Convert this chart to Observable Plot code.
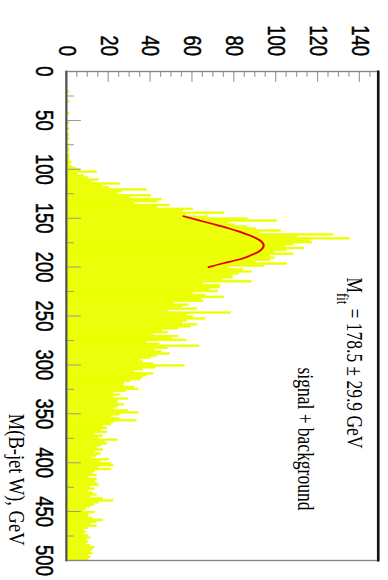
<!DOCTYPE html>
<html><head><meta charset="utf-8">
<script src="https://cdn.jsdelivr.net/npm/d3@7"></script>
<script src="https://cdn.jsdelivr.net/npm/@observablehq/plot@0.6"></script>
<style>
html,body{margin:0;padding:0;background:#fff;}
#wrap{position:relative;width:388px;height:580px;overflow:hidden;background:#fff;}
#wrap svg{position:absolute;left:0;top:0;transform-origin:0 0;}
#wrap g[aria-label$="tick label"] text{stroke:#000;stroke-width:0.4px;}
</style></head><body><div id="wrap"></div>
<script>
// Histogram counts, 2 GeV bins from 0 to 500 GeV
const binWidth = 2;
const counts = [
  0,0,0,0,0,0,0,0,0,0,
  1,0,0,0,0,1,0,0,0,0,
  0,1,0,0,0,0,1,0,0,1,
  0,0,1,0,1,0,0,1,0,1,
  1,0,1,1,1,
  1,2,1,2,4,
  6,14,5,8,10,
  15,12,25,17,20,
  38,26,24,40,30,
  45,43,32,49,43,
  60,55,75,57,67,
  86,100,77,80,86,
  90,102,92,127,110,
  135,116,117,108,104,
  113,105,99,108,97,
  99,97,90,105,94,
  77,84,88,82,79,
  79,74,88,65,73,
  73,68,72,60,66,
  75,64,65,51,58,
  55,62,48,78,57,
  60,66,57,55,62,
  59,53,45,48,41,
  53,50,57,38,44,
  63,48,42,45,49,
  43,40,35,36,41,
  56,42,36,32,41,
  38,36,35,30,27,
  27,32,34,28,22,
  25,22,29,24,24,
  27,24,22,29,34,
  25,21,25,33,22,
  21,17,19,16,19,
  13,17,15,24,18,
  19,16,14,17,13,
  16,14,12,20,16,
  21,22,15,21,13,
  12,14,10,14,13,
  14,15,11,13,10,
  12,14,11,17,22,
  15,13,11,9,8,
  13,10,10,12,17,
  14,11,14,10,8,
  9,8,10,11,9,
  10,9,11,13,12,
  11,12,10,11,10
];
// Fit curve
const fitMass  = [148,152,156,160,164,168,172,176,180,184,188,192,196,200];
const fitCount = [56,63,70,77,83,88,92,94,94,92,88,83,75,68];
// Axis ticks / labels
const massLabels = [0,50,100,150,200,250,300,350,400,450,500];
const massMinor = [25,75,125,175,225,275,325,375,425,475];
const countLabels = [0,20,40,60,80,100,120,140];
const countMinor = [5,10,15,25,30,35,45,50,55,65,70,75,85,90,95,105,110,115,125,130,135,145];
const xTitle = "M(B-jet W), GeV";
const fitLabel = {main: "M", sub: "fit", rest: " = 178.5 \u00b1 29.9 GeV"};
const legendLabel = "signal + background";

const YELLOW = "#ebff00";
const W0 = 580, H0 = 298, k = 388 / H0;
const frameBottom = (388 - 67) / k;

const bins = counts.map((c, i) => ({lo: i * binWidth, hi: (i + 1) * binWidth, c}));
const fit = fitMass.map((m, i) => ({m, c: fitCount[i]}));
const tickShape = {draw(context, l) { context.moveTo(0, 0); context.lineTo(0, -l); }};

const chart = Plot.plot({
  width: W0, height: H0,
  marginLeft: 71, marginRight: 20, marginTop: 7, marginBottom: H0 - frameBottom,
  style: {fontFamily: "Liberation Sans, Arial, sans-serif", fontSize: "18.5px", background: "white", maxWidth: "none", overflow: "visible", color: "black"},
  x: {domain: [0, 500], ticks: massLabels, tickSize: 0, tickPadding: 10.5, label: null},
  y: {domain: [0, 149], ticks: countLabels, tickSize: 0, tickPadding: 15.5, label: null},
  marks: [
    Plot.rectY(bins, {x1: "lo", x2: "hi", y: "c", fill: YELLOW, stroke: YELLOW, strokeWidth: 0.4}),
    Plot.line(fit, {x: "m", y: "c", stroke: "#e60000", strokeWidth: 1.7, curve: "natural"}),
    Plot.vector(massLabels, {x: d => d, frameAnchor: "bottom", rotate: 0, anchor: "start", length: 14 / k, shape: tickShape, stroke: "#999", strokeWidth: 1}),
    Plot.vector(massMinor, {x: d => d, frameAnchor: "bottom", rotate: 0, anchor: "start", length: 7 / k, shape: tickShape, stroke: "#999", strokeWidth: 1}),
    Plot.vector(countLabels, {y: d => d, frameAnchor: "left", rotate: 90, anchor: "start", length: 10, shape: tickShape, stroke: "#999", strokeWidth: 0.9}),
    Plot.vector(countMinor, {y: d => d, frameAnchor: "left", rotate: 90, anchor: "start", length: 5, shape: tickShape, stroke: "#999", strokeWidth: 0.9}),
    Plot.frame({stroke: "#888", strokeWidth: 1.4}),
    Plot.frame({anchor: "bottom", stroke: "#555", strokeWidth: 1.6}),
    Plot.frame({anchor: "top", stroke: "#111", strokeWidth: 2}),
    Plot.text([xTitle], {text: d => d, frameAnchor: "bottom-right", textAnchor: "end", lineAnchor: "middle", dx: -15, dy: 38.3, fontFamily: "Liberation Serif, Times New Roman, serif", fontSize: 18.5}),
    Plot.text([legendLabel], {text: d => d, frameAnchor: "top-left", textAnchor: "start", lineAnchor: "middle", dx: 296, dy: 55.8, fontFamily: "Liberation Serif, Times New Roman, serif", fontSize: 17.5})
  ]
});

const svg = d3.select(chart);
const ann = svg.append("text")
  .attr("x", 363).attr("y", 31.5)
  .attr("font-family", "Liberation Serif, Times New Roman, serif")
  .attr("font-size", 17.5).attr("fill", "black");
ann.append("tspan").text(fitLabel.main);
ann.append("tspan").attr("dy", 8).attr("font-size", 12.5).text(fitLabel.sub);
ann.append("tspan").attr("dy", -8).text(fitLabel.rest);

chart.style.transform = `translate(388px,0) rotate(90deg) scale(1, ${k})`;
document.getElementById("wrap").appendChild(chart);
</script>
</body></html>
